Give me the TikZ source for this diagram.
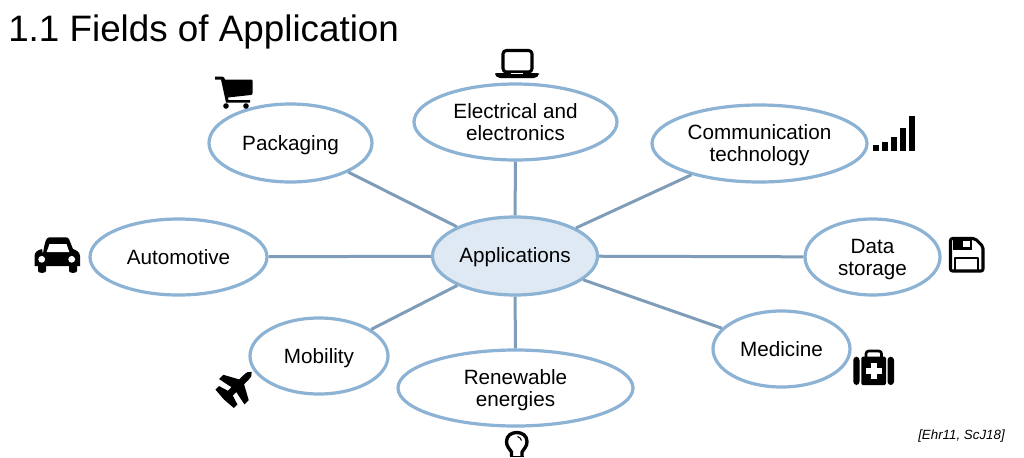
\documentclass[tikz,border=0pt]{standalone}
\usepackage{fontspec}
\setmainfont{Liberation Sans}
\usetikzlibrary{shapes.geometric}
\definecolor{ringblue}{HTML}{8CB2D4}
\definecolor{linkblue}{HTML}{7F9DB9}
\definecolor{hubfill}{HTML}{DEE9F3}
\newcommand{\lowered}[2]{\vbox{\vskip #1\hbox{\begin{tabular}{@{}c@{}}#2\end{tabular}}}}
\tikzset{
  topic/.style n args={2}{ellipse,draw=ringblue,line width=2.4pt,fill=white,inner sep=0pt,
    minimum width=#1*0.75pt,minimum height=#2*0.75pt,text=black,
    font=\fontsize{15.5}{16.5}\selectfont},
  hub/.style={fill=hubfill},
  link/.style={draw=linkblue,line width=2.25pt},
  icon/.style={fill=black,draw=none},
  iconline/.style={draw=black,line width=2.3pt,fill=none,line join=round},
}
\begin{document}
\begin{tikzpicture}[x=0.75pt,y=-0.75pt]
\useasboundingbox (0,0) rectangle (1024,457);
\fill[white] (0,0) rectangle (1024,457);
\node[anchor=west,inner sep=0pt,font=\fontsize{27.6}{30}\selectfont] (title) at (8,32) {1.1 Fields of Application};
\node[anchor=east,inner sep=0pt,font=\fontsize{10}{12}\selectfont\itshape] (cite) at (1005,436) {[Ehr11, ScJ18]};
% nodes
\node[topic={165}{78},hub] (app) at (515,256) {\lowered{3pt}{Applications}};
\node[topic={163}{78}] (pack) at (290.5,143) {\lowered{4.5pt}{Packaging}};
\node[topic={203}{76}] (elec) at (515.5,122) {\lowered{4.5pt}{Electrical and\\electronics}};
\node[topic={215}{77}] (comm) at (759.5,143.5) {\lowered{4.5pt}{Communication\\technology}};
\node[topic={177}{76}] (auto) at (178.5,257) {\lowered{4.5pt}{Automotive}};
\node[topic={135}{76}] (data) at (872.5,257) {\lowered{4.5pt}{Data\\storage}};
\node[topic={137}{76}] (med) at (781.5,349) {\lowered{4.5pt}{Medicine}};
\node[topic={138}{76}] (mob) at (319,356) {\lowered{4.5pt}{Mobility}};
\node[topic={235}{76}] (renew) at (515.5,388) {\lowered{4.5pt}{Renewable\\energies}};
% connectors
\foreach \t in {pack,elec,comm,auto,data,med,mob,renew}
  \draw[link] (app) -- (\t);
% cart
\fill[icon] (215,76.5) -- (222,76.5) .. controls (224,76.5) and (224.5,78) .. (225,79.5) -- (251,79.5) .. controls (252.5,79.5) and (252.5,80.5) .. (252.5,81) -- (252.5,93) .. controls (252.5,94.5) and (252,95) .. (250.5,95) -- (228,97.5) -- (228.5,100) -- (250,100) -- (250,102.5) -- (226,102.5) -- (221,79.5) -- (215,79.5) -- cycle;
\fill[icon] (226,106) circle (2.8);
\fill[icon] (246,106) circle (2.8);
% laptop
\draw[iconline,rounded corners=2.5] (503,50.5) rectangle (532,72);
\fill[icon,rounded corners=1.5] (495,73) -- (539,73) -- (539,75) -- (536,78) -- (498,78) -- (495,75) -- cycle;
\fill[white] (511,73) rectangle (523,74);
% signal bars
\fill[icon] (873.3,145) rectangle (879.3,150.7);
\fill[icon] (882.3,141.7) rectangle (888.3,150.7);
\fill[icon] (891.3,136.7) rectangle (897.3,150.7);
\fill[icon] (900,127.7) rectangle (905.7,150.7);
\fill[icon] (908.7,116) rectangle (914.7,150.7);
% floppy
\draw[iconline,rounded corners=1.5] (950.5,238.5) -- (975,238.5) -- (983,246.5) -- (983,271) -- (950.5,271) -- cycle;
\fill[icon] (953,239) rectangle (972,250);
\fill[white] (963,240.5) rectangle (969.5,247);
\draw[iconline,line width=1.8pt] (955,271) -- (955,258) -- (978,258) -- (978,271);
% car
\fill[icon] (43,254) .. controls (43.5,250) and (45,240) .. (47,238.5) .. controls (48,237.5) and (49,237.3) .. (51,237.3) -- (65,237.3) .. controls (67,237.3) and (68,237.5) .. (69,239) -- (73,249) .. controls (76,250) and (80,252) .. (80,256) -- (80,266) -- (77,266) -- (77,271) .. controls (77,273.5) and (69,273.5) .. (69,271) -- (69,266) -- (46,266) -- (46,271) .. controls (46,273.5) and (38,273.5) .. (38,271) -- (38,266) -- (34.5,266) -- (34.5,256) .. controls (34.5,252) and (38,250) .. (42,249) -- cycle;
\fill[white] (49.5,244) -- (66.5,244) -- (69.3,252) -- (46.7,252) -- cycle;
\fill[white] (41.7,259.3) circle (3.4);
\fill[white] (71.7,259.3) circle (3.4);
% plane
\begin{scope}[shift={(236,387.5)},rotate=45]
\fill[icon] (22,0) .. controls (21,-2.5) and (18,-3.4) .. (14,-3.4) -- (8,-3.4) -- (0,-18) -- (-6,-18) -- (-3,-3.4) -- (-8,-3.4) -- (-11,-13) -- (-16,-13) -- (-17,0) -- (-16,13) -- (-11,13) -- (-8,3.4) -- (-3,3.4) -- (-6,18) -- (0,18) -- (8,3.4) -- (14,3.4) .. controls (18,3.4) and (21,2.5) .. (22,0) -- cycle;
\end{scope}
% bulb
\draw[iconline,line width=2.5pt] (511.5,456) -- (511.5,452) .. controls (509,448) and (506.5,446.5) .. (506.5,441.5) .. controls (506.5,429.5) and (527,429.5) .. (527,441.5) .. controls (527,446.5) and (524.5,448) .. (522,452) -- (522,456);
\fill[icon] (510,455.5) rectangle (523.5,457);
\draw[black,line width=0.8pt] (517.5,436.5) .. controls (519.5,437) and (521,438.5) .. (521.5,440.5);
% medkit
\fill[icon,rounded corners=2.5] (853.3,356.7) rectangle (859.5,385);
\fill[icon,rounded corners=2.5] (887.5,356.7) rectangle (894,385);
\fill[icon,rounded corners=1] (861.3,356.7) rectangle (886,385);
\draw[iconline,line width=2pt,rounded corners=2] (866,357) -- (866,351) -- (881.5,351) -- (881.5,357);
\fill[white] (871,362.5) rectangle (877,379);
\fill[white] (865.7,367.7) rectangle (882.2,373.7);
\end{tikzpicture}
\end{document}
